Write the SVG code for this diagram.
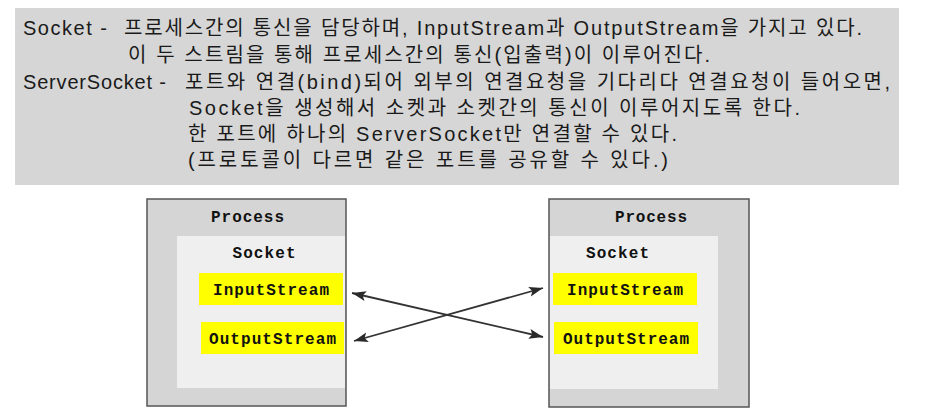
<svg xmlns="http://www.w3.org/2000/svg" width="934" height="411" viewBox="0 0 934 411">
<style>
.note{font-family:"Liberation Sans","Noto Sans CJK KR",sans-serif;font-size:20px;fill:#1a1a1a}
.mono{font-family:"Liberation Mono","Courier New",monospace;font-weight:bold;font-size:16px;fill:#111;text-anchor:middle}
.outer{fill:#d5d5d5;stroke:#555;stroke-width:1.5}
.inner{fill:#efefef}
.stream{fill:#ffff00}
.conn{stroke:#333;stroke-width:1.8;fill:none;marker-start:url(#ah);marker-end:url(#ah)}
</style>
<defs>
<marker id="ah" markerUnits="userSpaceOnUse" markerWidth="15" markerHeight="11" refX="14" refY="5" orient="auto-start-reverse">
<path d="M0,0 L14,5 L0,10 L3,5 z" fill="#2a2a2a"/>
</marker>
</defs>
<rect width="934" height="411" fill="#fff"/>
<g id="description">
<rect x="15" y="8" width="884" height="177" fill="#d6d6d6"/>
<text class="note" x="23" y="35" textLength="84" lengthAdjust="spacing">Socket -</text>
<text class="note" x="124" y="35" textLength="738" lengthAdjust="spacing">프로세스간의 통신을 담당하며, InputStream과 OutputStream을 가지고 있다.</text>
<text class="note" x="128" y="62" textLength="582" lengthAdjust="spacing">이 두 스트림을 통해 프로세스간의 통신(입출력)이 이루어진다.</text>
<text class="note" x="23" y="89" textLength="143" lengthAdjust="spacing">ServerSocket -</text>
<text class="note" x="185" y="89" textLength="705" lengthAdjust="spacing">포트와 연결(bind)되어 외부의 연결요청을 기다리다 연결요청이 들어오면,</text>
<text class="note" x="189" y="115" textLength="611" lengthAdjust="spacing">Socket을 생성해서 소켓과 소켓간의 통신이 이루어지도록 한다.</text>
<text class="note" x="188" y="141" textLength="489" lengthAdjust="spacing">한 포트에 하나의 ServerSocket만 연결할 수 있다.</text>
<text class="note" x="188" y="167" textLength="480" lengthAdjust="spacing">(프로토콜이 다르면 같은 포트를 공유할 수 있다.)</text>
</g>
<g id="process-left">
<rect class="outer" x="147" y="199" width="199" height="207"/>
<rect class="inner" x="177" y="236" width="168" height="152"/>
<text class="mono" x="247.5" y="222" textLength="73">Process</text>
<text class="mono" x="264" y="258" textLength="63">Socket</text>
<rect class="stream" x="199" y="273" width="144" height="32"/>
<text class="mono" x="271" y="295" textLength="116">InputStream</text>
<rect class="stream" x="201" y="322" width="143" height="32"/>
<text class="mono" x="272.5" y="344" textLength="127">OutputStream</text>
</g>
<g id="process-right">
<rect class="outer" x="549" y="199" width="200" height="208"/>
<rect class="inner" x="550" y="236" width="168" height="153"/>
<text class="mono" x="651" y="222" textLength="72">Process</text>
<text class="mono" x="617.5" y="258" textLength="63">Socket</text>
<rect class="stream" x="553" y="273" width="144" height="32"/>
<text class="mono" x="625" y="295" textLength="116">InputStream</text>
<rect class="stream" x="554" y="322" width="144" height="32"/>
<text class="mono" x="626" y="344" textLength="126">OutputStream</text>
</g>
<g id="connectors">
<line class="conn" x1="352" y1="293" x2="543" y2="337"/>
<line class="conn" x1="354" y1="341" x2="543" y2="288"/>
</g>
</svg>
